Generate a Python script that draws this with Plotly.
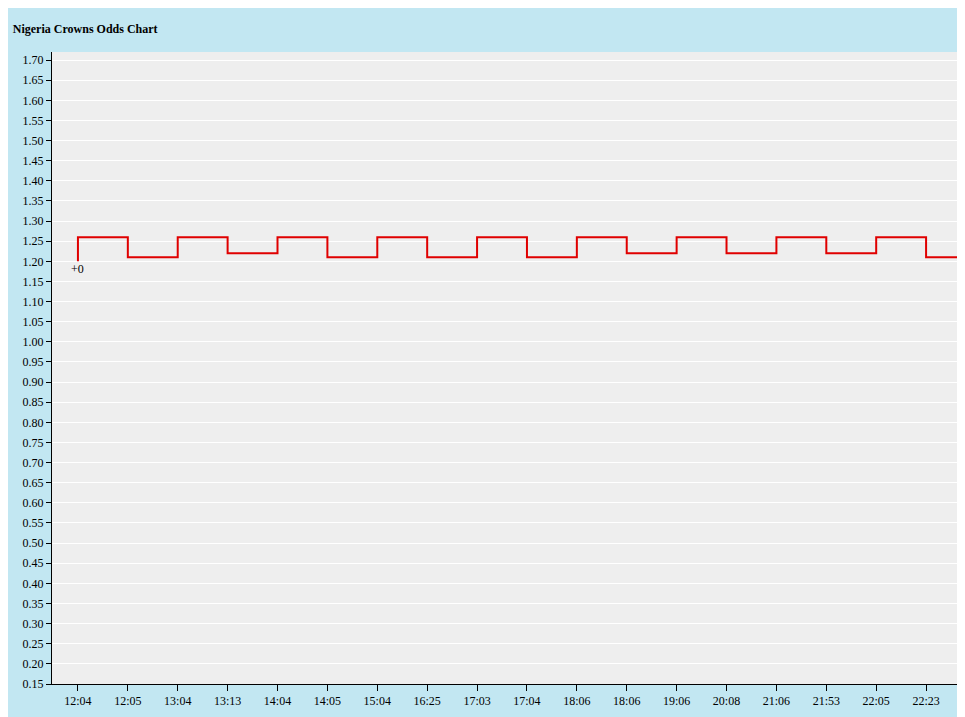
import plotly.graph_objects as go

times = ["12:04","12:05","13:04","13:13","14:04","14:05","15:04","16:25","17:03",
         "17:04","18:06","18:06","19:06","20:08","21:06","21:53","22:05","22:23"]
odds = [1.26,1.21,1.26,1.22,1.26,1.21,1.26,1.21,1.26,1.21,1.26,1.22,1.26,1.22,1.26,1.22,1.26,1.21]
start_odds = 1.20
x_end = 17.74

xs = [0] + list(range(len(times))) + [x_end]
ys = [start_odds] + odds + [odds[-1]]

fig = go.Figure(go.Scatter(x=xs, y=ys, mode="lines", line=dict(color="#e00000", width=2, shape="hv"),
                           hoverinfo="skip"))
fig.add_annotation(x=0, y=start_odds, text="+0", showarrow=False, yshift=-8, xshift=0,
                   font=dict(size=12, color="#000", family="Liberation Serif"))
fig.update_layout(
    width=957, height=709, paper_bgcolor="#c2e7f2", plot_bgcolor="#eeeeee",
    margin=dict(l=44, r=2, t=44, b=33), showlegend=False,
    title=dict(text="<b>Nigeria Crowns Odds Chart</b>", x=0.005, xanchor="left", y=0.970, yanchor="middle",
               font=dict(size=12, color="#000", family="Liberation Serif")),
    font=dict(family="Liberation Serif", size=12, color="#000"),
)
fig.update_xaxes(range=[-0.52, x_end], tickmode="array", tickvals=list(range(len(times))), ticktext=times,
                 showgrid=False, zeroline=False, showline=True, linecolor="#000", linewidth=1,
                 ticks="outside", ticklen=6, tickcolor="#000")
fig.update_yaxes(range=[0.15, 1.72], tickmode="array", tickvals=[round(0.15+0.05*i,2) for i in range(32)],
                 ticktext=[f"{0.15+0.05*i:.2f}" for i in range(32)],
                 showgrid=True, gridcolor="#ffffff", gridwidth=1, zeroline=False,
                 showline=True, linecolor="#000", linewidth=1, ticks="outside", ticklen=5, tickcolor="#000")
fig.write_html("out.html")
